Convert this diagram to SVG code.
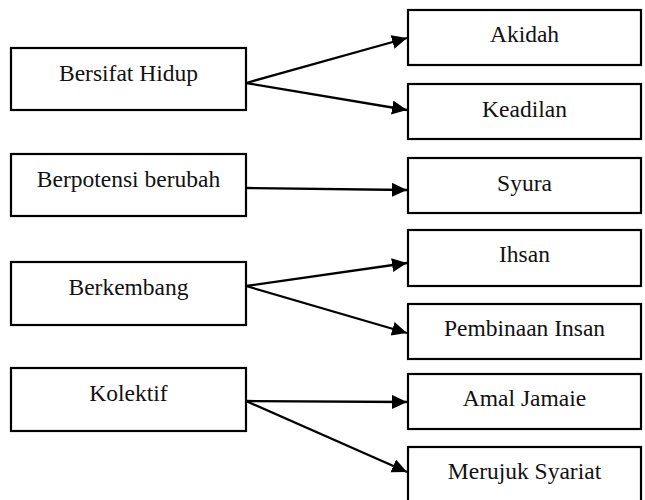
<svg xmlns="http://www.w3.org/2000/svg" width="645" height="500" viewBox="0 0 645 500">
  <style>
    .box { fill: #ffffff; stroke: #000000; stroke-width: 2.2; }
    .lbl { font-family: "Liberation Serif", "Times New Roman", serif; font-size: 23.5px; fill: #111111; text-anchor: middle; }
    .edge { fill: none; stroke: #000000; stroke-width: 2.3; }
  </style>
  <defs>
    <marker id="arrow" markerUnits="userSpaceOnUse" markerWidth="16" markerHeight="15" refX="15" refY="7" orient="auto">
      <path d="M0,0 L15,7 L0,14 z" fill="#000000"/>
    </marker>
  </defs>
  <rect width="645" height="500" fill="#ffffff"/>

  <!-- left column -->
  <g id="bersifat-hidup">
    <rect class="box" x="11" y="48" width="235" height="62"/>
    <text class="lbl" x="128.5" y="81">Bersifat Hidup</text>
  </g>
  <g id="berpotensi-berubah">
    <rect class="box" x="11" y="154" width="235" height="62"/>
    <text class="lbl" x="128.5" y="187">Berpotensi berubah</text>
  </g>
  <g id="berkembang">
    <rect class="box" x="11" y="262" width="235" height="63"/>
    <text class="lbl" x="128.5" y="295">Berkembang</text>
  </g>
  <g id="kolektif">
    <rect class="box" x="11" y="368" width="235" height="63"/>
    <text class="lbl" x="128.5" y="401">Kolektif</text>
  </g>

  <!-- right column -->
  <g id="akidah">
    <rect class="box" x="408" y="10" width="233" height="55"/>
    <text class="lbl" x="524.5" y="42">Akidah</text>
  </g>
  <g id="keadilan">
    <rect class="box" x="408" y="84" width="233" height="55"/>
    <text class="lbl" x="524.5" y="117">Keadilan</text>
  </g>
  <g id="syura">
    <rect class="box" x="408" y="158" width="233" height="55"/>
    <text class="lbl" x="524.5" y="191">Syura</text>
  </g>
  <g id="ihsan">
    <rect class="box" x="408" y="230" width="233" height="56"/>
    <text class="lbl" x="524.5" y="262">Ihsan</text>
  </g>
  <g id="pembinaan-insan">
    <rect class="box" x="408" y="304" width="233" height="55"/>
    <text class="lbl" x="524.5" y="336">Pembinaan Insan</text>
  </g>
  <g id="amal-jamaie">
    <rect class="box" x="408" y="374" width="233" height="55"/>
    <text class="lbl" x="524.5" y="406">Amal Jamaie</text>
  </g>
  <g id="merujuk-syariat">
    <rect class="box" x="408" y="447" width="233" height="60"/>
    <text class="lbl" x="524.5" y="479">Merujuk Syariat</text>
  </g>

  <!-- connectors -->
  <g id="connectors">
    <line class="edge" x1="246" y1="83" x2="407" y2="38" marker-end="url(#arrow)"/>
    <line class="edge" x1="246" y1="83" x2="407" y2="110" marker-end="url(#arrow)"/>
    <line class="edge" x1="246" y1="188" x2="407" y2="190" marker-end="url(#arrow)"/>
    <line class="edge" x1="246" y1="286" x2="407" y2="263" marker-end="url(#arrow)"/>
    <line class="edge" x1="246" y1="286" x2="407" y2="333" marker-end="url(#arrow)"/>
    <line class="edge" x1="246" y1="401" x2="407" y2="402" marker-end="url(#arrow)"/>
    <line class="edge" x1="246" y1="401" x2="407" y2="472" marker-end="url(#arrow)"/>
  </g>
</svg>
